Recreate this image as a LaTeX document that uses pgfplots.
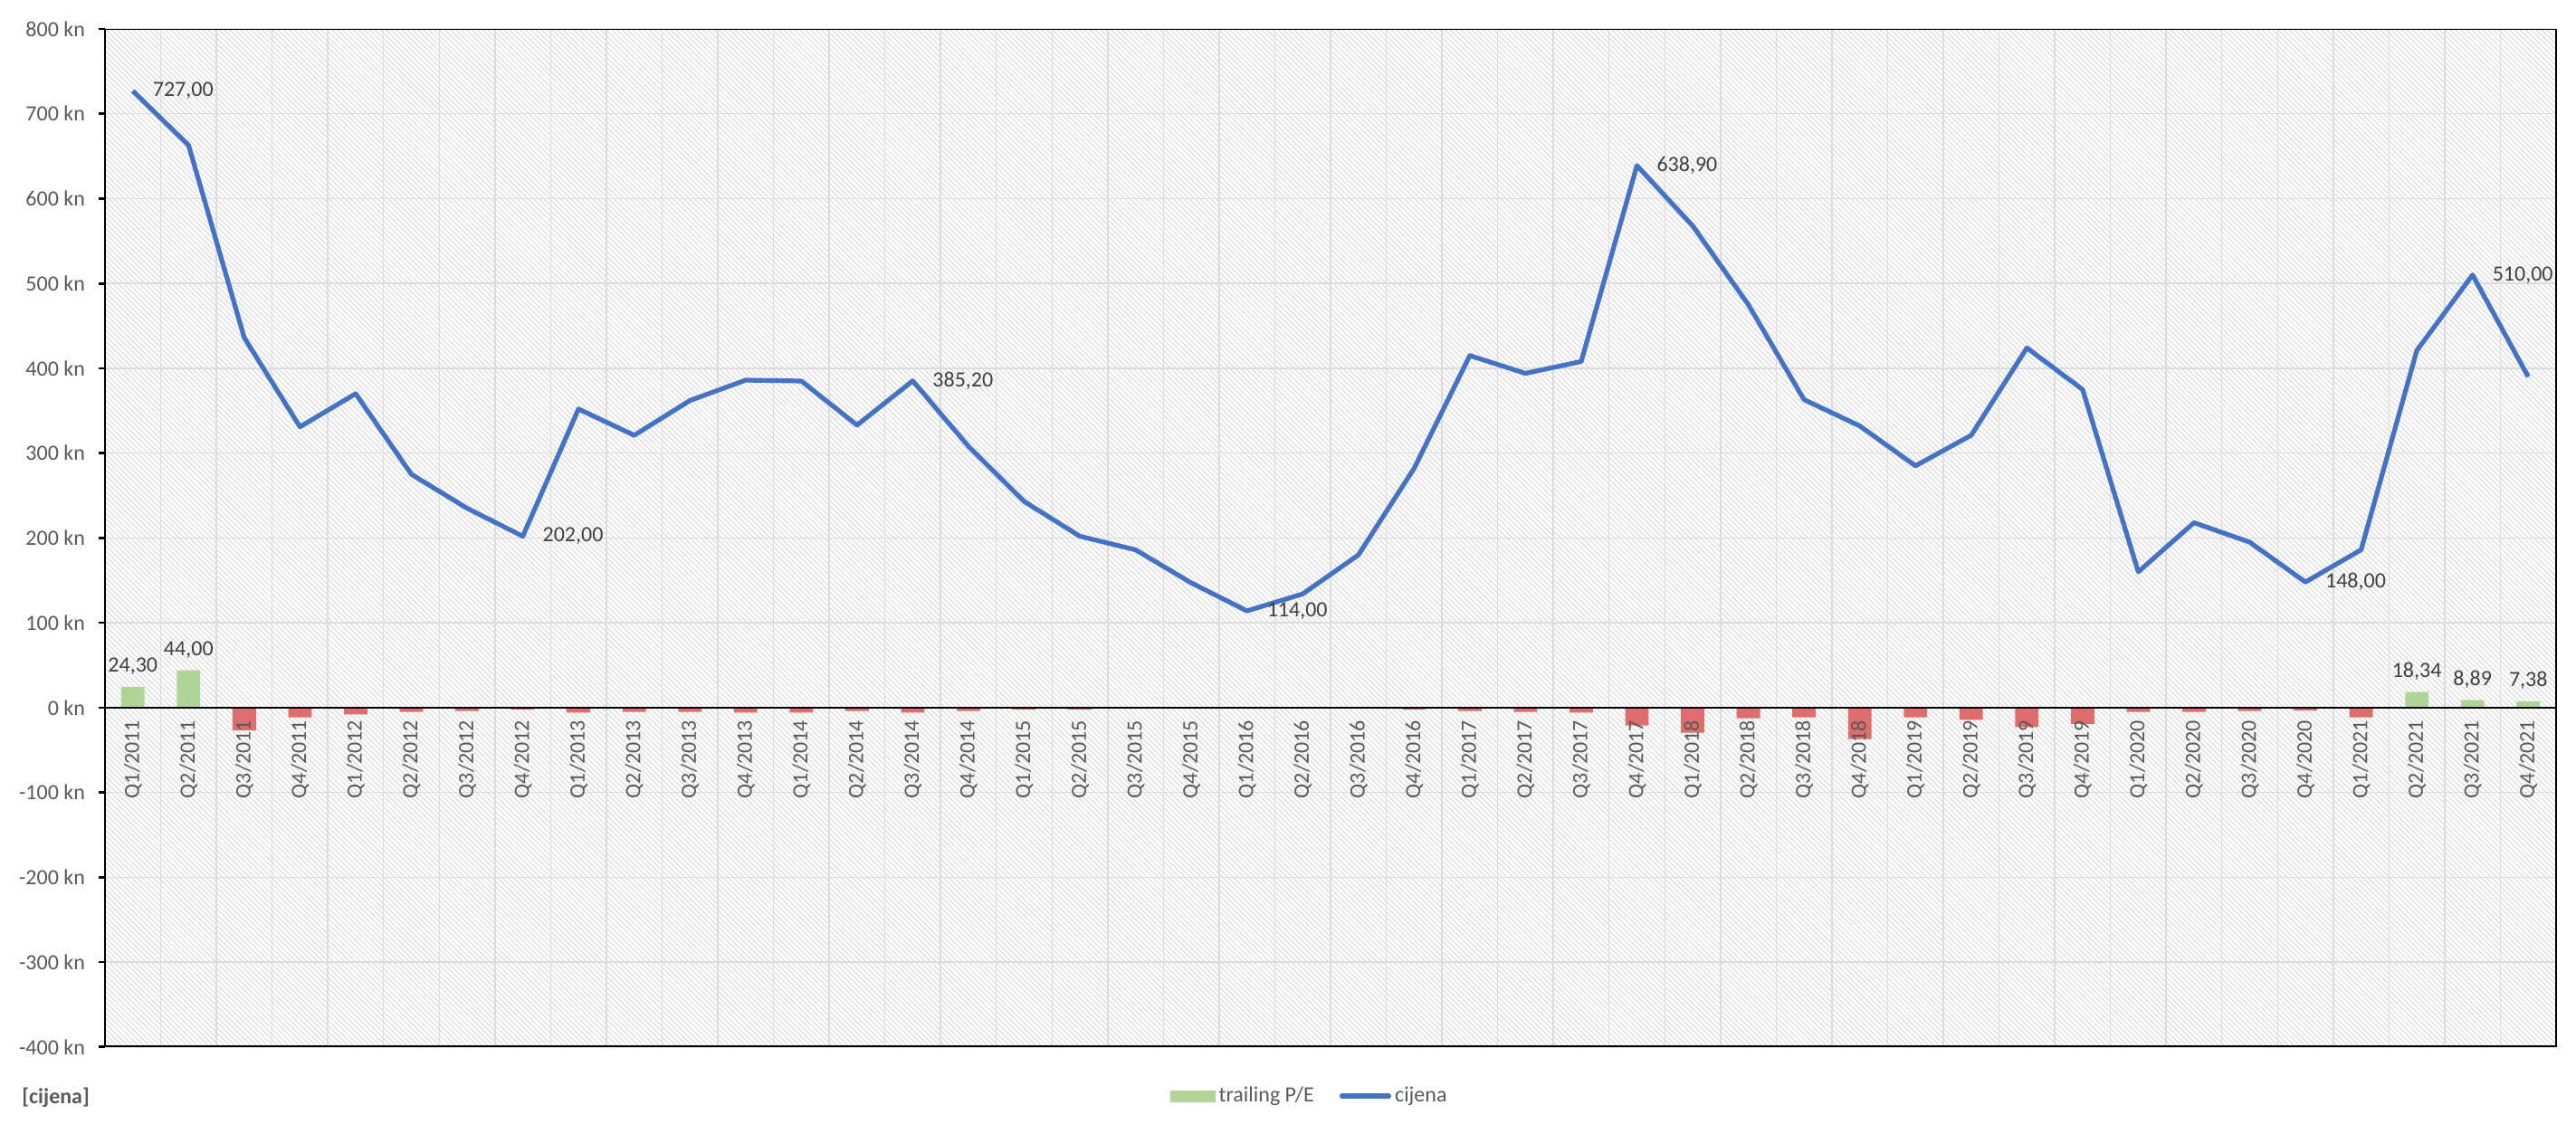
\documentclass[border=0pt]{standalone}
\usepackage{fontspec}
\setmainfont{Carlito}
\usepackage{pgfplots}
\pgfplotsset{compat=1.18}
\usetikzlibrary{patterns.meta}
\definecolor{cblue}{HTML}{4472C4}
\definecolor{cgreen}{HTML}{A9D18E}
\definecolor{cred}{HTML}{DE6262}
\definecolor{chatch}{HTML}{D9D9D9}
\definecolor{cgrid}{HTML}{DCDCDC}
\definecolor{ctick}{HTML}{595959}
\definecolor{clab}{HTML}{404040}
\pgfplotsset{
  layers/chartlayers/.define layer set={axis background,axis grid,main,axis ticks,axis lines,axis tick labels,axis descriptions,axis foreground}{/pgfplots/layers/standard},
}
\newcommand{\lf}{\fontsize{12}{14}\selectfont}
\begin{document}
\begin{tikzpicture}
\begin{axis}[
  set layers=chartlayers,
  at={(58pt,47.6pt)}, anchor=south west,
  scale only axis, width=1354pt, height=562.4pt,
  xmin=-0.5, xmax=43.5, ymin=-400, ymax=800,
  axis background/.style={pattern={Lines[angle=-45,distance=2.1pt,line width=0.5pt]}, pattern color=chatch},
  axis x line=middle, axis y line=box,
  x axis line style={-, black, line width=1.3pt},
  every inner x axis line/.append style={-},
  y axis line style={black, line width=1.3pt},
  hide obscured x ticks=false, hide obscured y ticks=false,
  xtick={0,...,43},
  xticklabels={Q1/2011,Q2/2011,Q3/2011,Q4/2011,Q1/2012,Q2/2012,Q3/2012,Q4/2012,Q1/2013,Q2/2013,Q3/2013,Q4/2013,Q1/2014,Q2/2014,Q3/2014,Q4/2014,Q1/2015,Q2/2015,Q3/2015,Q4/2015,Q1/2016,Q2/2016,Q3/2016,Q4/2016,Q1/2017,Q2/2017,Q3/2017,Q4/2017,Q1/2018,Q2/2018,Q3/2018,Q4/2018,Q1/2019,Q2/2019,Q3/2019,Q4/2019,Q1/2020,Q2/2020,Q3/2020,Q4/2020,Q1/2021,Q2/2021,Q3/2021,Q4/2021},
  xtick style={draw=none},
  xticklabel style={rotate=90, anchor=east, font=\lf, text=ctick},
  ytick={-400,-300,...,800},
  yticklabels={-400 kn,-300 kn,-200 kn,-100 kn,0 kn,100 kn,200 kn,300 kn,400 kn,500 kn,600 kn,700 kn,800 kn},
  ytick pos=left, tick align=outside, major tick length=3.5pt,
  ytick style={black, line width=1.3pt},
  yticklabel style={font=\lf, text=ctick, xshift=-4pt},
  ymajorgrids=true, xmajorgrids=false,
  minor xtick={-0.5,0.5,...,43.5}, xminorgrids=true, minor tick length=0pt,
  grid style={cgrid, line width=0.75pt},
  legend columns=2,
  legend cell align=left,
  legend style={at={(0.4917,-0.0482)}, anchor=center, draw=none, fill=none,
    font=\lf, nodes={text=ctick},
    /tikz/every even column/.append style={column sep=12pt}},
]
\addplot[ybar, bar width=12.9pt, bar shift=0pt, draw=none, fill=cgreen, fill opacity=0.92,
  point meta=y,
  nodes near coords={\pgfmathprintnumber[assume math mode=true,fixed,fixed zerofill,precision=2,use comma]{\pgfplotspointmeta}},
  every node near coord/.append style={font=\lf, text=clab, text opacity=1, yshift=3pt},
  legend image code/.code={\fill[cgreen] (0pt,-3.25pt) rectangle (25pt,3.25pt);}]
  coordinates {(0,24.30) (1,44.00) (41,18.34) (42,8.89) (43,7.38)};
\addlegendentry{trailing P/E}
\addplot[ybar, bar width=12.9pt, bar shift=0pt, draw=none, fill=cred, fill opacity=0.92, forget plot]
  coordinates {(2,-27) (3,-11.5) (4,-8) (5,-5) (6,-4) (7,-2.5) (8,-6) (9,-5) (10,-5) (11,-6)
   (12,-6) (13,-4) (14,-6) (15,-4) (16,-2.5) (17,-2.5) (18,-0.5) (19,-0.5) (20,-0.5) (21,-0.5)
   (22,-0.5) (23,-2.5) (24,-4) (25,-5) (26,-6) (27,-21) (28,-29.5) (29,-12.5) (30,-11.5) (31,-37)
   (32,-11.5) (33,-14.5) (34,-23) (35,-19.5) (36,-5) (37,-5) (38,-4) (39,-3.5) (40,-11.5)};
\addplot[cblue, line width=2.6pt, line join=round, mark=none,
  legend image code/.code={\draw[cblue, line width=2.6pt, line cap=round] (0pt,0pt) -- (26pt,0pt);}]
  coordinates {(0,727) (1,663) (2,436) (3,331) (4,370) (5,275) (6,235) (7,202) (8,352) (9,321)
   (10,362) (11,386) (12,385) (13,333) (14,385.2) (15,308) (16,243) (17,202) (18,186) (19,147)
   (20,114) (21,134) (22,180) (23,282) (24,415) (25,394) (26,408) (27,638.9) (28,568) (29,475)
   (30,363) (31,332) (32,285) (33,321) (34,424) (35,375) (36,160) (37,218) (38,195) (39,148)
   (40,186) (41,421) (42,510) (43,390)};
\addlegendentry{cijena}
\addplot[draw=none, mark=none, forget plot, point meta=y,
  nodes near coords={\pgfmathprintnumber[assume math mode=true,fixed,fixed zerofill,precision=2,use comma]{\pgfplotspointmeta}},
  every node near coord/.append style={anchor=west, xshift=7.5pt, font=\lf, text=clab}]
  coordinates {(0,727) (7,202) (14,385.2) (20,114) (27,638.9) (39,148) (42,510)};
\draw[black, line width=1.3pt, line cap=rect] (rel axis cs:0,1) -- (rel axis cs:1,1);
\draw[black, line width=1.3pt, line cap=rect] (rel axis cs:0,0) -- (rel axis cs:1,0);
\end{axis}
\node[anchor=west, font=\bfseries\lf, text=ctick, inner sep=0pt] at (12pt,19.5pt) {[cijena]};
\pgfresetboundingbox
\useasboundingbox (0,0) rectangle (1423pt,626pt);
\end{tikzpicture}
\end{document}
